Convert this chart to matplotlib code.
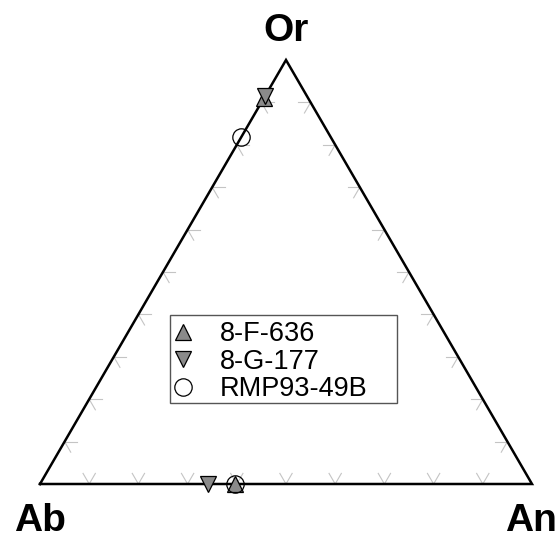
import matplotlib
matplotlib.use('Agg')
import matplotlib.pyplot as plt
from matplotlib.patches import Rectangle
import numpy as np

plt.rcParams['font.family'] = ['Liberation Sans', 'DejaVu Sans']

# compositions as fractions (Ab, An, Or)
f636_ab = [0.09, 0.604]
f636_an = [0.0, 0.396]
f636_or = [0.91, 0.0]

g177_ab = [0.085, 0.659]
g177_an = [0.0, 0.341]
g177_or = [0.915, 0.0]

rmp_ab = [0.182, 0.604]
rmp_an = [0.0, 0.396]
rmp_or = [0.818, 0.0]

tick_vals = [0.1, 0.2, 0.3, 0.4, 0.5, 0.6, 0.7, 0.8, 0.9]

h = np.sqrt(3) / 2


def tern(ab, an, orr):
    ab, an, orr = np.asarray(ab), np.asarray(an), np.asarray(orr)
    s = ab + an + orr
    return (an + orr / 2) / s, orr / s * h


W, H = 560, 538
fig = plt.figure(figsize=(5.6, 5.38), dpi=100)
ax = fig.add_axes([40 / W, 54 / H, 492 / W, 424 / H])
ax.set_xlim(0, 1)
ax.set_ylim(0, h)
ax.axis('off')

# ticks (grey chevrons along each side)
L = 0.025
tc = '#c4c4c4'
for t in tick_vals:
    # bottom edge
    x0, y0 = t, 0
    ax.plot([x0, x0 + 0.5 * L], [y0, y0 + h * L], color=tc, lw=0.8)
    ax.plot([x0, x0 - 0.5 * L], [y0, y0 + h * L], color=tc, lw=0.8)
    # left edge
    x0, y0 = t / 2, t * h
    ax.plot([x0, x0 + L], [y0, y0], color=tc, lw=0.8)
    ax.plot([x0, x0 + 0.5 * L], [y0, y0 - h * L], color=tc, lw=0.8)
    # right edge
    x0, y0 = 1 - t / 2, t * h
    ax.plot([x0, x0 - L], [y0, y0], color=tc, lw=0.8)
    ax.plot([x0, x0 - 0.5 * L], [y0, y0 - h * L], color=tc, lw=0.8)

# triangle frame
ax.plot([0, 1, 0.5, 0], [0, 0, h, 0], color='black', lw=1.8, clip_on=False,
        solid_joinstyle='miter')

x, y = tern(f636_ab, f636_an, f636_or)
ax.plot(x, y, '^', ms=11, mfc='#8a8a8a', mec='black', mew=0.9, ls='none',
        clip_on=False, label='8-F-636', zorder=5)
x, y = tern(g177_ab, g177_an, g177_or)
ax.plot(x, y, 'v', ms=11, mfc='#8a8a8a', mec='black', mew=0.9, ls='none',
        clip_on=False, label='8-G-177', zorder=5)
x, y = tern(rmp_ab, rmp_an, rmp_or)
ax.plot(x, y, 'o', ms=12.5, mfc='none', mec='black', mew=0.9, ls='none',
        clip_on=False, label='RMP93-49B', zorder=6)

# legend box drawn separately so its width matches the reference
ax.add_patch(Rectangle((170 / W, 1 - 403 / H), 227 / W, 88 / H,
                       transform=fig.transFigure, facecolor='white',
                       edgecolor='#555555', lw=1.0, zorder=4, clip_on=False))
leg = ax.legend(loc='upper left', bbox_to_anchor=(164 / W, 1 - 316 / H),
                bbox_transform=fig.transFigure, borderaxespad=0, frameon=False,
                fontsize=19.5, labelspacing=0.05, handlelength=1.0,
                handletextpad=0.85, borderpad=0.2)
leg.set_zorder(10)

fig.text(286 / W, 1 - 31 / H, 'Or', ha='center', va='center',
         fontsize=28, fontweight='bold')
fig.text(40 / W, 1 - 521 / H, 'Ab', ha='center', va='center',
         fontsize=28, fontweight='bold')
fig.text(505 / W, 1 - 521 / H, 'An', ha='left', va='center',
         fontsize=28, fontweight='bold')

fig.savefig('out.png', dpi=100)
